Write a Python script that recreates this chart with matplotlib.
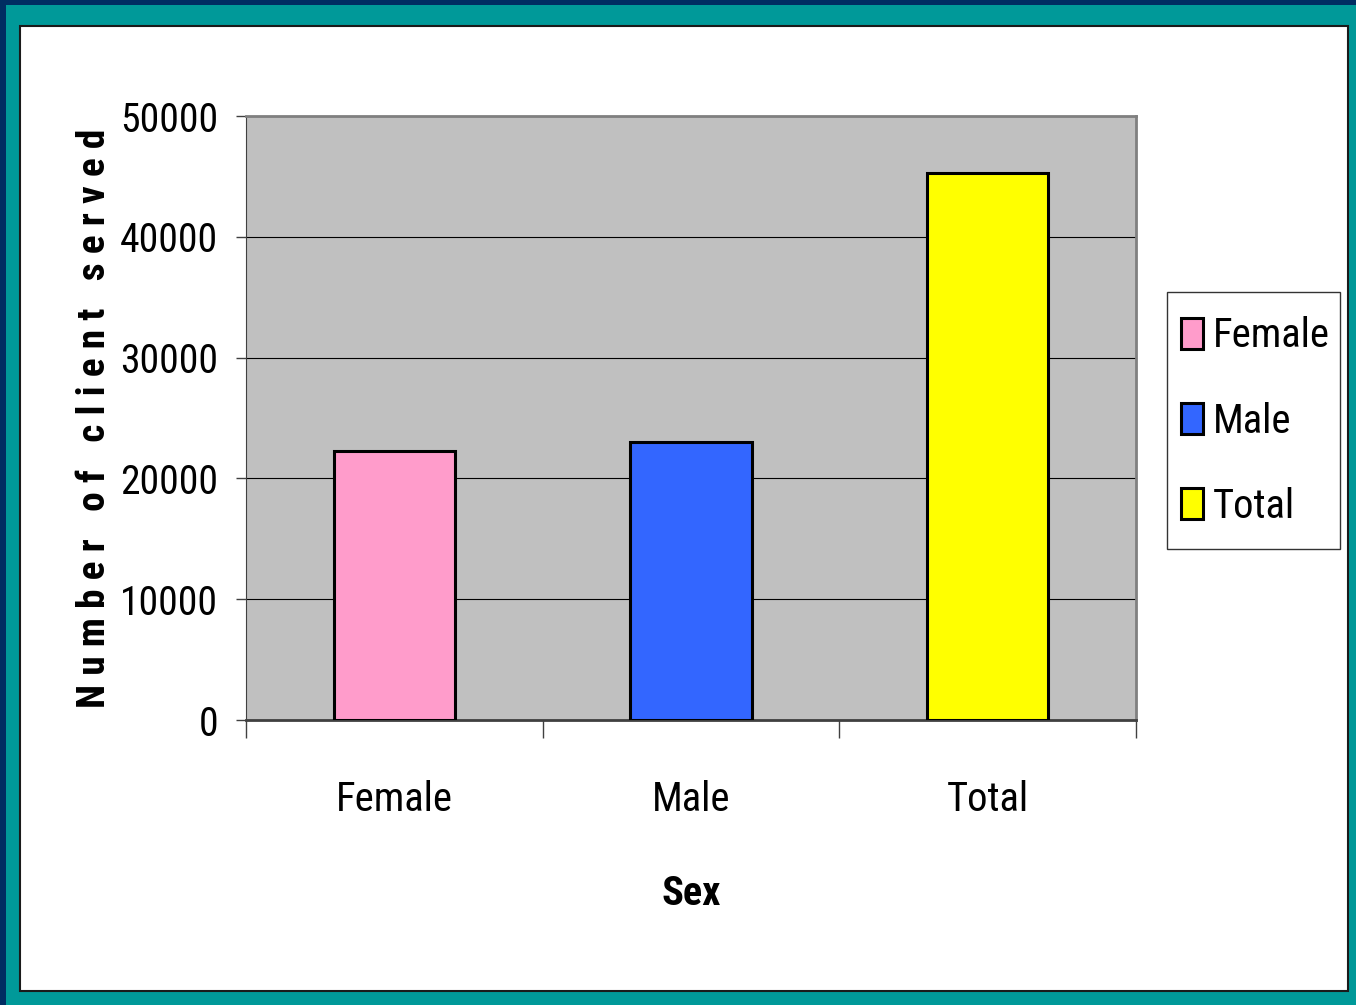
import matplotlib
matplotlib.use("Agg")
import matplotlib.pyplot as plt
from matplotlib.patches import Rectangle
from matplotlib import font_manager

categories = ["Female", "Male", "Total"]
values = [22300, 23000, 45300]
colors = ["#FF9CCB", "#3366FF", "#FFFF00"]
yticks = [0, 10000, 20000, 30000, 40000, 50000]
ylabel_text = "Number of client served"
xlabel_text = "Sex"

# pick a narrow sans font if one is installed
ttf = font_manager.fontManager.ttflist
names = {f.name for f in ttf}
stretch = "normal"
family = "Liberation Sans"
for cand in ["Liberation Sans Narrow", "Arial Narrow", "Roboto Condensed",
             "Open Sans Condensed", "Noto Sans Condensed", "DejaVu Sans Condensed"]:
    if cand in names:
        family = cand
        break
else:
    for f in ttf:
        if f.name in ("Noto Sans", "Open Sans", "DejaVu Sans", "Roboto") and \
                str(f.stretch) in ("condensed", "semi-condensed", "extra-condensed"):
            family, stretch = f.name, f.stretch
            break
fam = [family, "DejaVu Sans"]

W, H = 1356, 1005
fig = plt.figure(figsize=(W / 100, H / 100), dpi=100)
fig.patch.set_facecolor("#002D62")
renderer = fig.canvas.get_renderer()


def fit(s, target, **kw):
    t = fig.text(0, 0, s, fontsize=20, fontfamily=fam, fontstretch=stretch, **kw)
    ext = t.get_window_extent(renderer)
    t.remove()
    return 20 * target / ext.width


fs_tick = fit("50000", 98)
fs_cat = fit("Female", 117)
fs_sex = fit(xlabel_text, 59, fontweight="bold")
ylab = " ".join(ylabel_text)
fs_ylab = fit(ylab, 575, fontweight="bold")

# teal band and white panel
fig.add_artist(Rectangle((6 / W, 0), 1 - 6 / W, 1 - 5 / H, transform=fig.transFigure,
                         facecolor="#009999", edgecolor="none", zorder=0))
fig.add_artist(Rectangle((20 / W, 1 - 991 / H), (1348 - 20) / W, (991 - 26) / H,
                         transform=fig.transFigure, facecolor="white",
                         edgecolor="#1a1a1a", linewidth=1.5, zorder=0))

ax = fig.add_axes([246 / W, 1 - 720 / H, (1136 - 246) / W, (720 - 116) / H])
ax.set_facecolor("#C0C0C0")
x = range(len(categories))
bars = ax.bar(x, values, width=0.41, color=colors, edgecolor="black", linewidth=2.2,
              label=categories, zorder=3)
ax.set_xlim(-0.5, 2.5)
ax.set_ylim(0, 50000)
ax.set_yticks(yticks)
ax.set_yticklabels([str(v) for v in yticks], fontfamily=fam, fontstretch=stretch,
                   fontsize=fs_tick)
for lbl in ax.get_yticklabels():
    lbl.set_va("center_baseline")
ax.yaxis.grid(True, color="black", linewidth=0.8)
ax.set_axisbelow(True)
ax.tick_params(axis="y", length=7, width=1, color="#404040", pad=13)
ax.set_xticks([-0.5, 0.5, 1.5, 2.5])
ax.set_xticklabels([])
ax.tick_params(axis="x", length=13, width=1, color="#404040", direction="out")
ax.set_xticks([0, 1, 2], minor=True)
ax.set_xticklabels(categories, minor=True, fontfamily=fam, fontstretch=stretch,
                   fontsize=fs_cat)
ax.tick_params(axis="x", which="minor", length=0, pad=43)
for s in ["top", "right"]:
    ax.spines[s].set_color("#808080")
    ax.spines[s].set_linewidth(2)
ax.spines["left"].set_color("#404040")
ax.spines["bottom"].set_color("#404040")
ax.spines["bottom"].set_linewidth(2)

ax.set_xlabel(xlabel_text, fontfamily=fam, fontstretch=stretch, fontsize=fs_sex,
              fontweight="bold", va="top")
ax.xaxis.set_label_coords(0.5, -0.257)
ax.set_ylabel(ylab, fontfamily=fam, fontstretch=stretch, fontsize=fs_ylab,
              fontweight="bold")
ax.yaxis.set_label_coords(-0.149, 0.5)

# legend (frame drawn separately to match box geometry)
fs_leg = fs_cat
em = fs_leg * 100 / 72
fig.add_artist(Rectangle((1167 / W, 1 - 549 / H), (1340 - 1167) / W, (549 - 292) / H,
                         transform=fig.transFigure, facecolor="white",
                         edgecolor="#333333", linewidth=1, zorder=1))
leg = fig.legend(handles=bars, labels=categories, loc="center left",
                 bbox_to_anchor=(1181 / W, 1 - 421 / H),
                 prop={"family": fam, "size": fs_leg, "stretch": stretch},
                 frameon=False,
                 handlelength=22 / em, handleheight=32 / em, handletextpad=10 / em,
                 labelspacing=0.9 + 9.5 / em, borderpad=0, borderaxespad=0)
leg.set_zorder(2)
for p in leg.get_patches():
    p.set_linewidth(2.2)

fig.savefig("out.png", dpi=100, facecolor=fig.get_facecolor())
